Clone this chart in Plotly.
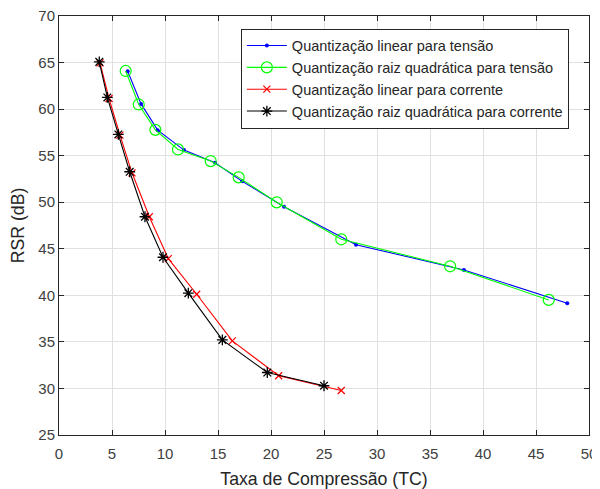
import plotly.graph_objects as go

# Data
tc_lin_v = [6.48, 7.74, 9.31, 11.79, 14.72, 17.29, 21.23, 28.02, 38.2, 47.95]
rsr_lin_v = [64.07, 60.56, 57.74, 55.6, 54.23, 52.24, 49.52, 45.44, 42.73, 39.15]

tc_raiz_v = [6.29, 7.52, 9.09, 11.23, 14.31, 16.95, 20.54, 26.63, 36.9, 46.2]
rsr_raiz_v = [64.1, 60.5, 57.77, 55.67, 54.42, 52.67, 49.99, 46.02, 43.12, 39.51]

tc_lin_i = [3.87, 4.72, 5.75, 6.89, 8.52, 10.31, 12.99, 16.35, 20.72, 26.63]
rsr_lin_i = [64.97, 61.14, 57.2, 53.16, 48.44, 43.94, 40.12, 35.11, 31.36, 29.78]

tc_raiz_i = [3.8, 4.56, 5.6, 6.67, 8.11, 9.81, 12.2, 15.41, 19.65, 25.0]
rsr_raiz_i = [65.07, 61.25, 57.28, 53.27, 48.44, 44.09, 40.23, 35.22, 31.71, 30.29]

names = [
    "Quantização linear para tensão",
    "Quantização raiz quadrática para tensão",
    "Quantização linear para corrente",
    "Quantização raiz quadrática para corrente",
]

x_ticks = [0, 5, 10, 15, 20, 25, 30, 35, 40, 45, 50]
y_ticks = [25, 30, 35, 40, 45, 50, 55, 60, 65, 70]

fig = go.Figure()
fig.add_trace(go.Scatter(x=tc_lin_v, y=rsr_lin_v, name=names[0], mode="lines+markers",
                         line=dict(color="#0000ff", width=1.1),
                         marker=dict(symbol="circle", size=4, color="#0000ff")))
fig.add_trace(go.Scatter(x=tc_raiz_v, y=rsr_raiz_v, name=names[1], mode="lines+markers",
                         line=dict(color="#00ff00", width=1.1),
                         marker=dict(symbol="circle-open", size=11, color="#00ff00",
                                     line=dict(width=1.2, color="#00ff00"))))
fig.add_trace(go.Scatter(x=tc_lin_i, y=rsr_lin_i, name=names[2], mode="lines+markers",
                         line=dict(color="#ff0000", width=1.1),
                         marker=dict(symbol="x-thin-open", size=7, color="#ff0000",
                                     line=dict(width=1.2, color="#ff0000"))))
fig.add_trace(go.Scatter(x=tc_raiz_i, y=rsr_raiz_i, name=names[3], mode="lines+markers",
                         line=dict(color="#000000", width=1.1),
                         marker=dict(symbol="asterisk-open", size=9, color="#000000",
                                     line=dict(width=1.3, color="#000000"))))

axis_common = dict(
    showline=True, linecolor="#262626", linewidth=1, mirror="ticks",
    ticks="inside", ticklen=5, tickcolor="#262626",
    showgrid=True, gridcolor="#e0e0e0", gridwidth=1,
    zeroline=False, tickfont=dict(size=15, color="#404040"),
    automargin=False, ticklabeloverflow="allow",
)

# The page body has an 8px margin, so the figure is sized to fit inside the window.
fig.update_layout(
    width=592, height=481,
    margin=dict(l=51, r=11, t=8, b=54),
    paper_bgcolor="white", plot_bgcolor="white",
    font=dict(family="Liberation Sans, Arial, sans-serif", color="#262626"),
    showlegend=True,
    legend=dict(x=0.962, y=0.97, xanchor="right", yanchor="top",
                bgcolor="white", bordercolor="#262626", borderwidth=1,
                font=dict(size=14.5, color="#262626"),
                tracegroupgap=0, itemwidth=40),
    xaxis=dict(range=[0, 50], tickvals=x_ticks, ticklabelstandoff=5,
               title=dict(text="Taxa de Compressão (TC)", font=dict(size=17.7, color="#262626"), standoff=11),
               **axis_common),
    yaxis=dict(range=[25, 70], tickvals=y_ticks,
               title=dict(text="RSR (dB)", font=dict(size=17.7, color="#262626"), standoff=10),
               **axis_common),
)

fig.write_html("out.html")
